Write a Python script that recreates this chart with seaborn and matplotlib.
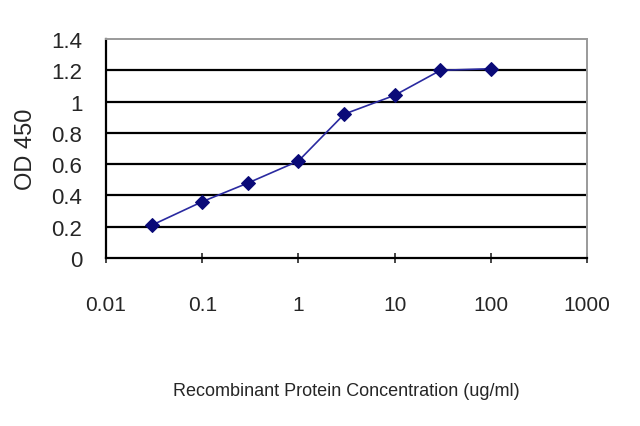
import numpy as np
import pandas as pd
import matplotlib
matplotlib.use("Agg")
import matplotlib.pyplot as plt
import seaborn as sns

# values
concentration = [0.03, 0.1, 0.3, 1, 3, 10, 30, 100]
od450 = [0.21, 0.36, 0.48, 0.62, 0.92, 1.04, 1.2, 1.21]
x_ticks = [0.01, 0.1, 1, 10, 100, 1000]
x_tick_labels = ["0.01", "0.1", "1", "10", "100", "1000"]
y_ticks = [0, 0.2, 0.4, 0.6, 0.8, 1, 1.2, 1.4]
y_tick_labels = ["0", "0.2", "0.4", "0.6", "0.8", "1", "1.2", "1.4"]

df = pd.DataFrame({"conc": concentration, "od": od450})

sns.set_style("white")
plt.rcParams['font.family'] = ['Liberation Sans', 'DejaVu Sans']

fig = plt.figure(figsize=(6.4, 4.27), dpi=100)
ax = fig.add_axes([0.1656, 0.3934, 0.7516, 0.5129])

# horizontal grid lines like the Excel chart
for v in y_ticks[1:-1]:
    ax.axhline(v, color="black", lw=1.6, zorder=1)

sns.lineplot(data=df, x="conc", y="od", ax=ax, color="#2a2aa0", lw=1.2,
             marker="D", markersize=7, markerfacecolor="#0a0a78",
             markeredgecolor="#0a0a78", zorder=3)

ax.set_xscale("log")
ax.set_xlim(0.01, 1000)
ax.set_ylim(0, 1.4)
ax.set_xticks(x_ticks)
ax.set_xticklabels(x_tick_labels)
ax.minorticks_off()
ax.set_yticks(y_ticks)
ax.set_yticklabels(y_tick_labels)

ax.tick_params(axis="x", direction="inout", length=7, width=1.2, pad=23,
               labelsize=15, bottom=True)
ax.tick_params(axis="y", length=0, pad=17, labelsize=16)

for side in ["left", "bottom"]:
    ax.spines[side].set_color("black")
    ax.spines[side].set_linewidth(1.6)
for side in ["top", "right"]:
    ax.spines[side].set_color("#9a9a9a")
    ax.spines[side].set_linewidth(1.4)

ax.set_xlabel("Recombinant Protein Concentration (ug/ml)", fontsize=13, labelpad=49)
ax.set_ylabel("OD 450", fontsize=17, labelpad=10)

fig.savefig("out.png", dpi=100)
